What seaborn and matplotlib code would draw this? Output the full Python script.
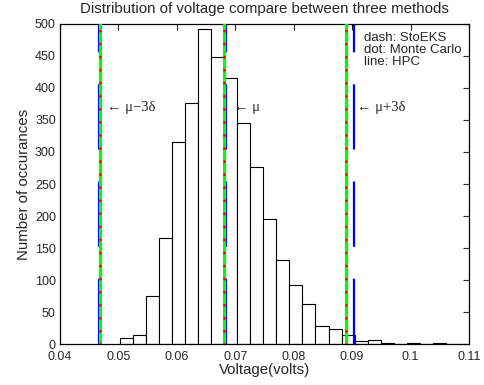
import numpy as np
import pandas as pd
import matplotlib
matplotlib.use("Agg")
import matplotlib.pyplot as plt
import seaborn as sns

# histogram of simulated voltages (bin counts)
bin_start = 0.0502
bin_width = 0.002235
counts = [9, 15, 76, 166, 315, 377, 492, 449, 416, 346, 276,
          196, 131, 92, 63, 28, 23, 14, 5, 7, 2, 1, 2, 1, 2, 0, 0]

# mu-3d, mu, mu+3d for the three methods
hpc = [0.0469, 0.0680, 0.0890]
monte_carlo = [0.0469, 0.0680, 0.0890]
stoeks = [0.0466, 0.0684, 0.0904]
marker_labels = ["\u2190 \u03bc\u22123\u03b4", "\u2190 \u03bc", "\u2190 \u03bc+3\u03b4"]
label_x = [0.0481, 0.0698, 0.0909]
label_y = 370

method_text = ["dash: StoEKS", "dot: Monte Carlo", "line: HPC"]

sns.set_style("white")
plt.rcParams['font.family'] = ['Liberation Sans', 'DejaVu Sans']
plt.rcParams['lines.scale_dashes'] = False

edges = bin_start + bin_width * np.arange(len(counts) + 1)
hist_df = pd.DataFrame({"voltage": (edges[:-1] + edges[1:]) / 2, "count": counts})

fig = plt.figure(figsize=(4.84, 3.85), dpi=100)
ax = fig.add_axes([0.124, 0.106, 0.845, 0.832])

sns.histplot(data=hist_df, x="voltage", weights="count", bins=edges.tolist(), ax=ax,
             color="white", edgecolor="black", linewidth=0.8, alpha=1)

for v in hpc:
    ax.axvline(v, color="#00ff00", lw=2.3, zorder=3)
for v in monte_carlo:
    ax.axvline(v, color="red", lw=2.0, linestyle=(0, (0.1, 9.3)),
               dash_capstyle="round", zorder=4)
for v in stoeks:
    ax.plot([v, v], [0, 500], color="blue", lw=1.6,
            linestyle=(0, (47, 23)), zorder=2)

for x, txt in zip(label_x, marker_labels):
    ax.text(x, label_y, txt, fontsize=10.5, va="center", ha="left",
            family=["Liberation Serif", "DejaVu Serif"])

ax.text(0.0921, 488, "\n".join(method_text), fontsize=9.5, va="top",
        ha="left", linespacing=1.0)

ax.set_xlim(0.04, 0.11)
ax.set_ylim(0, 500)
ax.set_xticks(np.arange(0.04, 0.1101, 0.01))
ax.set_xticklabels(["0.04", "0.05", "0.06", "0.07", "0.08", "0.09", "0.1", "0.11"])
ax.set_yticks(np.arange(0, 501, 50))
ax.tick_params(direction="in", top=True, right=True, length=4, width=0.8,
               labelsize=9, pad=3)
ax.tick_params(axis="x", pad=5)
for s in ax.spines.values():
    s.set_linewidth(0.9)
    s.set_color("black")

ax.set_xlabel("Voltage(volts)", fontsize=10.8, labelpad=0)
ax.set_ylabel("Number of occurances", fontsize=10.8, labelpad=3)
ax.set_title("Distribution of voltage compare between three methods", fontsize=10.8, pad=8)

fig.savefig("out.png", dpi=100)
